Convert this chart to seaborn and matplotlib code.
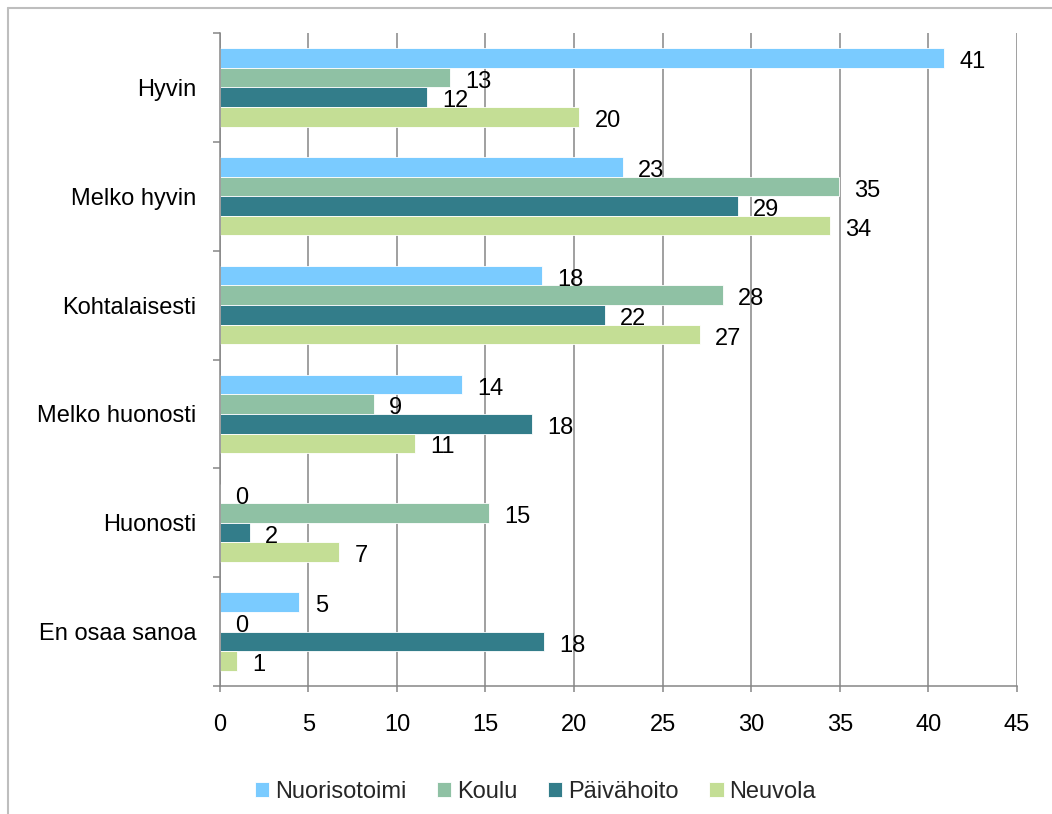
import matplotlib
matplotlib.use('Agg')
import matplotlib.pyplot as plt
import seaborn as sns
import pandas as pd
import numpy as np
from matplotlib.lines import Line2D
from matplotlib.ticker import FixedLocator

categories = ["Hyvin", "Melko hyvin", "Kohtalaisesti", "Melko huonosti", "Huonosti", "En osaa sanoa"]
series = ["Nuorisotoimi", "Koulu", "Päivähoito", "Neuvola"]
nuorisotoimi = [40.9, 22.75, 18.2, 13.65, 0.0, 4.5]
koulu = [13.0, 34.95, 28.4, 8.7, 15.2, 0.0]
paivahoito = [11.7, 29.25, 21.75, 17.6, 1.7, 18.3]
neuvola = [20.3, 34.45, 27.1, 11.0, 6.75, 0.95]
x_ticks = [0, 5, 10, 15, 20, 25, 30, 35, 40, 45]
colors = ["#7ACBFF", "#8FC1A4", "#337D8A", "#C4DE95"]

values_by_series = [nuorisotoimi, koulu, paivahoito, neuvola]
rows = []
for s, vals in zip(series, values_by_series):
    for c, v in zip(categories, vals):
        rows.append({"category": c, "series": s, "value": v})
df = pd.DataFrame(rows)

sns.set_theme(style="white")
plt.rcParams['font.family'] = ['Liberation Sans', 'DejaVu Sans']

W, H = 1052, 814
fig = plt.figure(figsize=(W / 100, H / 100), dpi=100)
left, right, top, bottom = 219.7 / W, 1017 / W, 1 - 33 / H, 1 - 686 / H
ax = fig.add_axes([left, bottom, right - left, top - bottom])

sns.barplot(data=df, x="value", y="category", hue="series", order=categories,
            hue_order=series, palette=colors, orient="h", width=0.72, saturation=1,
            edgecolor="white", linewidth=0.6, ax=ax)

gray = "#868686"
ax.set_xlim(0, 45)
ax.set_ylim(5.5, -0.5)
ax.set_xticks(x_ticks)
ax.set_xticklabels([str(t) for t in x_ticks])
ax.set_xlabel("")
ax.set_ylabel("")
ax.xaxis.grid(True, color=gray, linewidth=1.1)
ax.yaxis.grid(False)
ax.set_axisbelow(True)
for side in ["top", "right"]:
    ax.spines[side].set_visible(False)
for side in ["left", "bottom"]:
    ax.spines[side].set_color(gray)
    ax.spines[side].set_linewidth(1.1)

ax.yaxis.set_minor_locator(FixedLocator(np.arange(-0.5, len(categories), 1.0)))
ax.tick_params(axis="y", which="major", length=0, pad=17, labelsize=17, labelcolor="black")
ax.tick_params(axis="y", which="minor", left=True, length=5, width=1.1, color=gray)
ax.tick_params(axis="x", which="major", bottom=True, direction="out", length=4.3,
               width=1.1, color=gray, pad=16, labelsize=17, labelcolor="black")

for cont, vals in zip(ax.containers, values_by_series):
    for p, v in zip(cont.patches, vals):
        txt = str(int(np.floor(v + 0.5)))
        ax.annotate(txt, xy=(p.get_x() + p.get_width(), p.get_y() + p.get_height() / 2),
                    xytext=(11, -3), textcoords="offset points", va="center", ha="left",
                    fontsize=17, color="black", annotation_clip=False)

handles, labels = ax.get_legend_handles_labels()
if ax.get_legend() is not None:
    ax.get_legend().remove()
fig.legend(handles, labels, loc="center", bbox_to_anchor=(0.509, 0.027), ncol=4,
           frameon=False, fontsize=17, handlelength=0.6, handleheight=0.6,
           handletextpad=0.25, columnspacing=1.3)

border = "#BEBEBE"
fig.add_artist(Line2D([7.5 / W, 7.5 / W], [0, 1 - 8 / H], transform=fig.transFigure,
                      color=border, linewidth=1.5))
fig.add_artist(Line2D([7.5 / W, 1], [1 - 8 / H, 1 - 8 / H], transform=fig.transFigure,
                      color=border, linewidth=1.5))

fig.savefig("out.png", dpi=100)
